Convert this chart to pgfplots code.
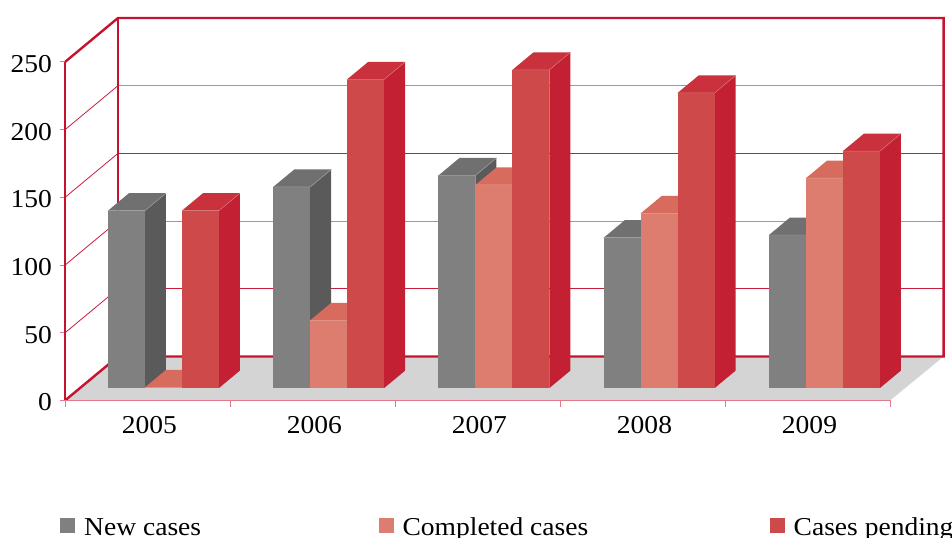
\documentclass[border=0pt]{standalone}
\usepackage{pgfplots}
\usepackage{pgfplotstable}
\usepackage{fontspec}
\pgfplotsset{compat=1.18}
\setmainfont[FakeStretch=1.07]{Liberation Serif}

\definecolor{framered}{HTML}{C5122F}
\definecolor{gridred}{HTML}{C81E3E}
\definecolor{gridpink}{HTML}{E27A8C}
\definecolor{floorgrey}{HTML}{D4D4D4}
\definecolor{newfront}{HTML}{808080}
\definecolor{newtop}{HTML}{707070}
\definecolor{newside}{HTML}{5A5A5A}
\definecolor{donefront}{HTML}{DC7D70}
\definecolor{donetop}{HTML}{D76C5E}
\definecolor{doneside}{HTML}{D0604F}
\definecolor{pendfront}{HTML}{CE4A4A}
\definecolor{pendtop}{HTML}{C9313C}
\definecolor{pendside}{HTML}{C42033}

\pgfplotstableread{
New Completed Pending
131 0.5 131
148.5 50 228
157 150 235
111 129 218
113 155 175
}\casestable

% One series of blocks: column name, slot in the group, three face colours
\newcommand\drawseries[5]{%
  \pgfplotsinvokeforeach{0,...,4}{%
    \pgfplotstablegetelem{##1}{#1}\of\casestable
    \pgfmathsetmacro\xl{##1*1.0015+0.2606+#2*0.2242}%
    \pgfmathsetmacro\xr{\xl+0.2242}%
    \pgfmathsetmacro\yb{9.23}%
    \pgfmathsetmacro\yt{9.23+\pgfplotsretval}%
    \pgfmathsetmacro\xlb{\xl+0.1273}%
    \pgfmathsetmacro\xrb{\xr+0.1273}%
    \pgfmathsetmacro\ytb{\yt+12.9}%
    \pgfmathsetmacro\ybb{\yb+12.9}%
    \edef\temp{%
      \noexpand\addplot[fill=#5,draw=none,forget plot] coordinates {(\xr,\yb)(\xr,\yt)(\xrb,\ytb)(\xrb,\ybb)} --cycle;
      \noexpand\addplot[fill=#4,draw=none,forget plot] coordinates {(\xl,\yt)(\xr,\yt)(\xrb,\ytb)(\xlb,\ytb)} --cycle;
      \noexpand\addplot[fill=#3,draw=none,forget plot] coordinates {(\xl,\yb)(\xl,\yt)(\xr,\yt)(\xr,\yb)} --cycle;
      \noexpand\addplot[#3!75!white,line width=0.35pt,forget plot] coordinates {(\xl,\yt)(\xr,\yt)(\xrb,\ytb)};
    }\temp
  }%
}

\begin{document}
\begin{tikzpicture}
\path[use as bounding box, clip] (0,0) rectangle (714pt,403.5pt);
\begin{axis}[
  at={(48.75pt,103.125pt)}, anchor=south west,
  scale only axis, width=618.75pt, height=253.875pt,
  xmin=0, xmax=5, ymin=0, ymax=250,
  clip=false, axis on top,
  axis x line*=bottom, axis y line*=left,
  x axis line style={draw=gridpink,line width=0.75pt},
  y axis line style={draw=framered,line width=1.8pt},
  xtick={0.512,1.512,2.512,3.512,4.512},
  xticklabels={2005,2006,2007,2008,2009},
  minor xtick={0,1,2,3,4,5},
  major x tick style={draw=none},
  minor x tick style={draw=gridpink,line width=0.75pt},
  minor tick length=5.25pt, xtick align=outside,
  ytick={0,50,100,150,200,250},
  y tick style={draw=gridpink,line width=0.75pt},
  major tick length=3.75pt, ytick align=outside,
  tick label style={font=\fontsize{19.3pt}{21pt}\selectfont,/pgf/number format/assume math mode=true},
  xticklabel style={yshift=-4.5pt},
  yticklabel style={xshift=-2.5pt,yshift=-1.5pt},
  legend columns=3,
  legend style={draw=none,fill=none,at={(-0.0061,-0.374)},anchor=west,inner sep=0pt,
    font=\fontsize{19.3pt}{21pt}\selectfont,
    /tikz/column 2/.style={column sep=133pt},
    /tikz/column 4/.style={column sep=136pt},
    nodes={inner sep=0pt,anchor=base west}},
  legend image code/.code={\fill[#1] (0pt,1.5pt) rectangle (11.25pt,12.75pt);\path (18pt,0);},
]
  % Chart floor and back frame
  \addplot[fill=floorgrey,draw=none,forget plot] coordinates {(0,0)(0.3212,32.5)(5.3252,32.5)(5,0)} --cycle;
  % Gridlines across the side and back walls
  \addplot[gridred,line width=0.6pt,forget plot] coordinates {(0,200)(0.3212,232.5)};
  \addplot[gridred,line width=0.6pt,forget plot] coordinates {(0,150)(0.3212,182.5)};
  \addplot[gridred,line width=0.6pt,forget plot] coordinates {(0,100)(0.3212,132.5)};
  \addplot[gridred,line width=0.6pt,forget plot] coordinates {(0,50)(0.3212,82.5)};
  \addplot[gridpink,line width=0.75pt,forget plot] coordinates {(0.3212,232.5)(5.3252,232.5)};
  \addplot[gridred,line width=0.75pt,forget plot] coordinates {(0.3212,182.5)(5.3252,182.5)};
  \addplot[gridpink,line width=0.75pt,forget plot] coordinates {(0.3212,132.5)(5.3252,132.5)};
  \addplot[gridred,line width=0.75pt,forget plot] coordinates {(0.3212,82.5)(5.3252,82.5)};
  \addplot[framered,line width=1.8pt,forget plot] coordinates {(0,250)(0.3212,282.5)(5.3252,282.5)(5.3252,32.5)(0.3212,32.5)(0,0)};
  \addplot[framered,line width=1.8pt,forget plot] coordinates {(0.3212,282.5)(0.3212,32.5)};
  % Blocks, back to front within each group
  \drawseries{New}{0}{newfront}{newtop}{newside}
  \drawseries{Completed}{1}{donefront}{donetop}{doneside}
  \drawseries{Pending}{2}{pendfront}{pendtop}{pendside}
  % Legend
  \addlegendimage{fill=newfront,draw=none}
  \addlegendentry{New cases}
  \addlegendimage{fill=donefront,draw=none}
  \addlegendentry{Completed cases}
  \addlegendimage{fill=pendfront,draw=none}
  \addlegendentry{Cases pending}
\end{axis}
\end{tikzpicture}
\end{document}
